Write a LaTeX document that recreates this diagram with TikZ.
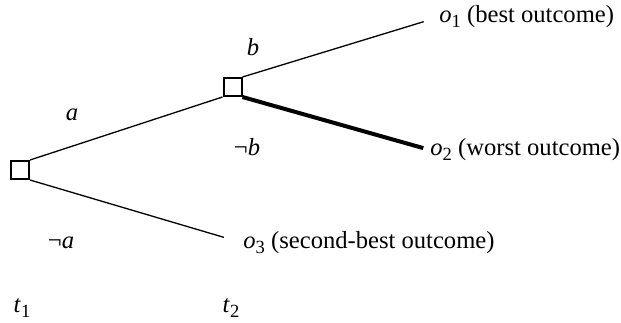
\documentclass[tikz,border=0pt]{standalone}
\usepackage{fontspec}
\setmainfont{Liberation Serif}
\usepackage{tikz}
\usetikzlibrary{positioning}
\newcommand{\outc}[2]{\textit{o}\raisebox{-0.4ex}{\fontsize{9.3}{10}\selectfont #1}\ (#2)}

\begin{document}
\begin{tikzpicture}[x=0.5pt,y=-0.5pt,
    every node/.style={font=\fontsize{12.3}{15}\selectfont},
    choice/.style={draw,line width=1pt,minimum size=9pt,inner sep=0pt},
    outcome/.style={anchor=west,inner sep=0pt},
    branch/.style={line width=0.65pt},
    worst/.style={line width=2pt}]
  \useasboundingbox (0,0) rectangle (621,322);
  % decision points
  \node[choice] (d1) at (20,170) {};
  \node[choice] (d2) at (232.5,87) {};
  % outcomes
  \node[outcome] (o1) at (439,17) {\outc{1}{best outcome}};
  \node[outcome] (o2) at (430,150) {\outc{2}{worst outcome}};
  \node[outcome] (o3) at (243,243) {\outc{3}{second-best outcome}};
  % branches
  \draw[branch] (d1.north east) -- (d2.south west);
  \draw[branch,shorten >=10pt] (d1.south east) -- (o3.west);
  \draw[branch,shorten >=8pt] (d2.north east) -- (o1.west);
  \draw[worst,shorten >=3.5pt] (d2.south east) -- (o2.west);
  % labels
  \node (la) at (72,115) {\textit{a}};
  \node (lna) at (61,243) {¬\textit{a}};
  \node (lb) at (253,47) {\textit{b}};
  \node (lnb) at (247,147) {¬\textit{b}};
  \node (t1) at (22,308) {\textit{t}\raisebox{-0.4ex}{\fontsize{9.3}{10}\selectfont 1}};
  \node (t2) at (231,308) {\textit{t}\raisebox{-0.4ex}{\fontsize{9.3}{10}\selectfont 2}};
\end{tikzpicture}
\end{document}
